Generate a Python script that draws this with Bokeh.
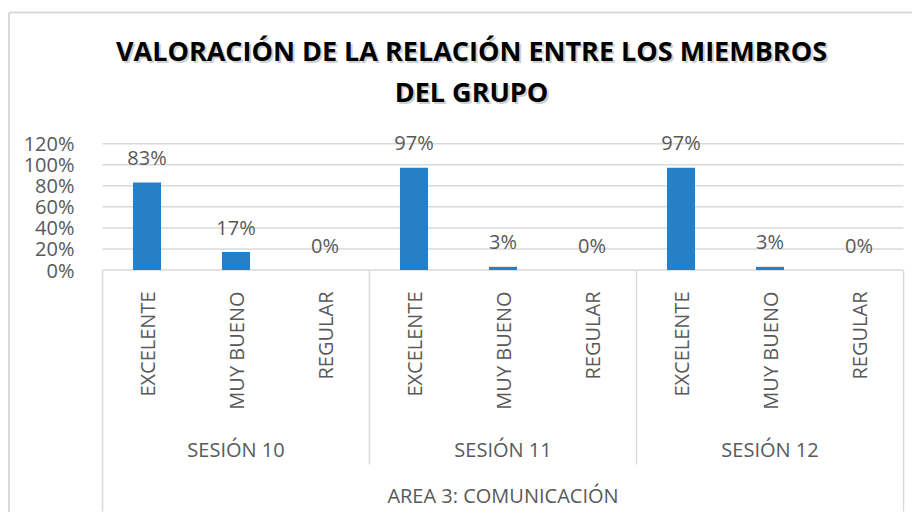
import math
from bokeh.plotting import figure
from bokeh.models import Range1d, FixedTicker, NumeralTickFormatter, ColumnDataSource
from bokeh.core.properties import value
from bokeh.embed import file_html
from bokeh.resources import INLINE

# ---------------- data ----------------
title_lines = ["VALORACIÓN DE LA RELACIÓN ENTRE LOS MIEMBROS", "DEL GRUPO"]
area = "AREA 3: COMUNICACIÓN"
sessions = ["SESIÓN 10", "SESIÓN 11", "SESIÓN 12"]
ratings = ["EXCELENTE", "MUY BUENO", "REGULAR"]
sesion_10 = [0.83, 0.17, 0.00]
sesion_11 = [0.97, 0.03, 0.00]
sesion_12 = [0.97, 0.03, 0.00]
y_ticks = [0, 0.2, 0.4, 0.6, 0.8, 1.0, 1.2]

# ---------------- layout constants (pixels) ----------------
W, H = 912, 512
X0_PX = 102.0          # left edge of the category area
X_UNIT = 89.0          # pixels per category slot
ZERO_Y = 269.5         # pixel row of the 0% line
PPU = 105.3            # pixels per 100%
BORDER_X, BORDER_Y = 8.5, 12.0
TITLE_CX = 471.0
TITLE_ROWS = [50.0, 91.0]
FONT = value("Open Sans")
TXT = "#595959"
GRID = "#d9d9d9"


def dx(px_x):
    return (px_x - X0_PX) / X_UNIT


def dy(px_y):
    return (ZERO_Y - px_y) / PPU


values = sesion_10 + sesion_11 + sesion_12
cat_session = [s for s in sessions for r in ratings]
cat_rating = [r for s in sessions for r in ratings]
n_cat = len(values)
n_r = len(ratings)
x_pos = [i + 0.5 for i in range(n_cat)]          # category slot centres
session_x = [k * n_r + n_r / 2 for k in range(len(sessions))]
area_x = n_cat / 2

p = figure(width=W, height=H,
           x_range=Range1d(dx(0), dx(W)), y_range=Range1d(dy(H), dy(0)),
           output_backend="svg", toolbar_location=None,
           x_axis_location=None, y_axis_location="left",
           min_border=0, min_border_left=0, min_border_right=0,
           min_border_top=0, min_border_bottom=0,
           outline_line_color=None, background_fill_color="white",
           border_fill_color="white")

p.xgrid.visible = False
p.ygrid.visible = False

ticker = FixedTicker(ticks=y_ticks)
yax = p.yaxis[0]
yax.ticker = ticker
yax.fixed_location = 0
yax.formatter = NumeralTickFormatter(format="0%")
yax.axis_line_color = None
yax.major_tick_line_color = None
yax.minor_tick_line_color = None
yax.major_label_standoff = 22
yax.major_label_text_font = "Open Sans"
yax.major_label_text_font_size = "20px"
yax.major_label_text_color = TXT

# outer chart border (left and top edges)
p.segment(x0=[dx(BORDER_X), dx(BORDER_X)], y0=[dy(BORDER_Y), dy(BORDER_Y)],
          x1=[dx(BORDER_X), dx(W + 10)], y1=[dy(H + 10), dy(BORDER_Y)],
          line_color=GRID, line_width=2)

# gridlines
p.segment(x0=[0] * len(y_ticks), y0=y_ticks, x1=[n_cat] * len(y_ticks),
          y1=y_ticks, line_color=GRID, line_width=1.5)

# category box lines
seps = [k * n_r for k in range(len(sessions) + 1)]
bottoms = [dy(511) if (k == 0 or k == len(sessions)) else dy(464)
           for k in range(len(sessions) + 1)]
p.segment(x0=seps, y0=[0] * len(seps), x1=seps, y1=bottoms,
          line_color=GRID, line_width=1.5)

# bars
src = ColumnDataSource(dict(
    x=x_pos, top=values,
    ly=[v + 25 / PPU for v in values],
    label=[f"{round(v * 100)}%" for v in values],
))
p.vbar(x="x", top="top", width=0.315, source=src,
       fill_color="#2680C8", line_color=None)
p.text(x="x", y="ly", text="label", source=src, text_font=FONT,
       text_font_size="20px", text_color=TXT,
       text_align="center", text_baseline="middle")

# rating labels (rotated)
p.text(x=x_pos, y=[dy(291)] * n_cat, text=cat_rating,
       angle=math.pi / 2, text_font=FONT, text_font_size="20px",
       text_color=TXT, text_align="right", text_baseline="middle")

# session labels
p.text(x=session_x, y=[dy(449)] * len(sessions), text=sessions,
       text_font=FONT, text_font_size="20px", text_color=TXT,
       text_align="center", text_baseline="middle")

# area label
p.text(x=[area_x], y=[dy(495)], text=[area], text_font=FONT,
       text_font_size="20px", text_color=TXT,
       text_align="center", text_baseline="middle")

# title (with a soft shadow)
p.text(x=[dx(TITLE_CX + 2)] * len(title_lines),
       y=[dy(r + 2) for r in TITLE_ROWS],
       text=title_lines, text_font=FONT, text_font_size="27px",
       text_font_style="bold", text_color="#a6a6a6", text_alpha=0.55,
       text_align="center", text_baseline="middle")
p.text(x=[dx(TITLE_CX)] * len(title_lines), y=[dy(r) for r in TITLE_ROWS],
       text=title_lines, text_font=FONT, text_font_size="27px",
       text_font_style="bold", text_color="#000000",
       text_align="center", text_baseline="middle")

open("out.html", "w").write(file_html(p, INLINE, title="Valoración"))
